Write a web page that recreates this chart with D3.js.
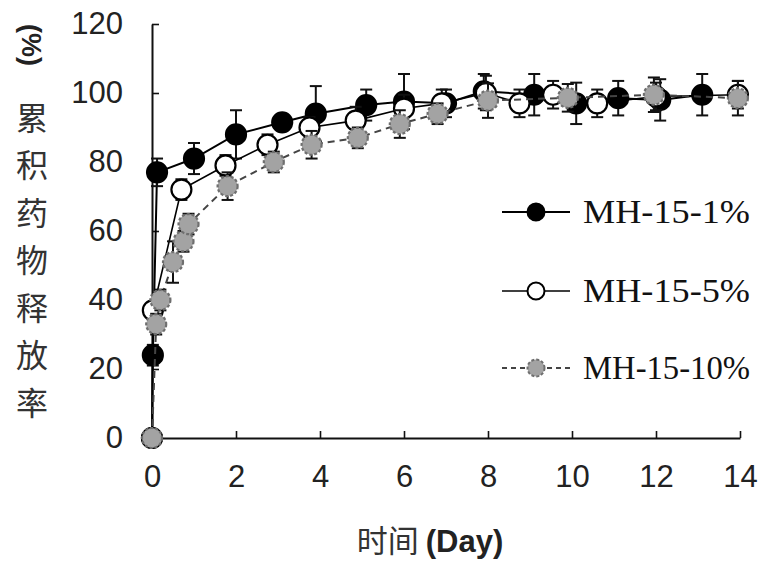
<!DOCTYPE html>
<html>
<head>
<meta charset="utf-8">
<script src="https://cdn.jsdelivr.net/npm/d3@7"></script>
<style>
  body { margin: 0; background: #fff; }
  svg { display: block; }
</style>
</head>
<body>
<svg id="chart" width="775" height="564"></svg>
<script>
// series values (day, cumulative release %, error)
const days1 = [0, 0.02, 0.12, 1, 2, 3.1, 3.9, 5.1, 6, 7, 7.9, 9.1, 10.1, 11.1, 12.1, 13.1];
const rel1  = [0, 24, 77, 81, 88, 91.5, 94, 96.5, 97.5, 97, 100.5, 99.5, 97, 98.5, 98, 99.5];
const err1  = [0, 3, 4, 4.5, 7, 2, 8, 4.5, 8, 4, 5, 6, 6, 5, 6, 6];

const days2 = [0, 0.02, 0.7, 1.75, 2.75, 3.75, 4.85, 6, 6.9, 7.95, 8.75, 9.55, 10.6, 12, 13.95];
const rel2  = [0, 37, 72, 79, 85, 90, 92, 95.5, 97, 100, 97, 99.5, 97, 99, 99.5];
const err2  = [0, 2, 3, 3, 3, 3, 4, 4, 4, 5, 4, 4, 4, 4, 4];

const days3 = [0, 0.1, 0.2, 0.5, 0.75, 0.87, 1.8, 2.9, 3.8, 4.9, 5.9, 6.8, 8, 9.9, 11.95, 13.95];
const rel3  = [0, 33, 40, 51, 57, 62, 73, 80, 85, 87, 91, 94, 97.8, 98.6, 99.5, 98.5];
const err3  = [0, 3, 3, 6, 3, 3, 4, 3, 4, 3, 4, 3, 5, 4, 5, 5];

const seriesNames = ["MH-15-1%", "MH-15-5%", "MH-15-10%"];
const xTicks = [0, 2, 4, 6, 8, 10, 12, 14];
const yTicks = [0, 20, 40, 60, 80, 100, 120];
const yTitleChars = ["累", "积", "药", "物", "释", "放", "率"];

const svg = d3.select("#chart");

const x = d3.scaleLinear().domain([0, 14]).range([152, 740]);
const y = d3.scaleLinear().domain([0, 120]).range([438, 24]);

// axes, ticks pointing inward
const xAxis = svg.append("g")
    .attr("transform", "translate(0," + y(0) + ")")
    .call(d3.axisBottom(x).tickValues(xTicks).tickSize(-7).tickPadding(27).tickSizeOuter(0));

const yAxis = svg.append("g")
    .attr("transform", "translate(" + x(0) + ",0)")
    .call(d3.axisLeft(y).tickValues(yTicks).tickSize(-7).tickPadding(29).tickSizeOuter(0));

[xAxis, yAxis].forEach(function(ax) {
    ax.select(".domain").attr("stroke", "#111").attr("stroke-width", 2);
    ax.selectAll(".tick line").attr("stroke", "#111").attr("stroke-width", 1.6);
    ax.selectAll("text")
        .attr("font-family", "Liberation Sans, Arial, sans-serif")
        .attr("font-size", "31px")
        .attr("fill", "#222");
});

const styles = [
    { fill: "#000", stroke: "#000", dash: null, line: "#000", lineDash: null, lw: 2 },
    { fill: "#fff", stroke: "#000", dash: null, line: "#000", lineDash: null, lw: 1.6 },
    { fill: "#a3a3a3", stroke: "#6f6f6f", dash: "3,2", line: "#444", lineDash: "7,5", lw: 2 }
];

const allSeries = [
    days1.map((d, i) => ({ d: d, v: rel1[i], e: err1[i] })),
    days2.map((d, i) => ({ d: d, v: rel2[i], e: err2[i] })),
    days3.map((d, i) => ({ d: d, v: rel3[i], e: err3[i] }))
];

const line = d3.line().x(p => x(p.d)).y(p => y(p.v));

allSeries.forEach(function(data, k) {
    const st = styles[k];
    const g = svg.append("g");

    g.append("path")
        .datum(data)
        .attr("d", line)
        .attr("fill", "none")
        .attr("stroke", st.line)
        .attr("stroke-width", st.lw)
        .attr("stroke-dasharray", st.lineDash);

    // error bars
    const eb = g.selectAll(".eb").data(data.filter(p => p.e > 0)).join("g");
    eb.append("line")
        .attr("x1", p => x(p.d)).attr("x2", p => x(p.d))
        .attr("y1", p => y(p.v - p.e)).attr("y2", p => y(p.v + p.e))
        .attr("stroke", "#111").attr("stroke-width", 2);
    [-1, 1].forEach(function(s) {
        eb.append("line")
            .attr("x1", p => x(p.d) - 6).attr("x2", p => x(p.d) + 6)
            .attr("y1", p => y(p.v + s * p.e)).attr("y2", p => y(p.v + s * p.e))
            .attr("stroke", "#111").attr("stroke-width", 2);
    });

    g.selectAll("circle").data(data).join("circle")
        .attr("cx", p => x(p.d))
        .attr("cy", p => y(p.v))
        .attr("r", 10)
        .attr("fill", st.fill)
        .attr("stroke", st.stroke)
        .attr("stroke-width", 2.2)
        .attr("stroke-dasharray", st.dash);
});

// legend
const legendY = [212, 291, 368];
seriesNames.forEach(function(name, k) {
    const st = styles[k];
    const lg = svg.append("g").attr("transform", "translate(0," + legendY[k] + ")");
    lg.append("line")
        .attr("x1", 502).attr("x2", 570).attr("y1", 0).attr("y2", 0)
        .attr("stroke", st.line).attr("stroke-width", st.lw)
        .attr("stroke-dasharray", st.lineDash ? "5,4" : null);
    lg.append("circle")
        .attr("cx", 536).attr("cy", 0).attr("r", 8.5)
        .attr("fill", st.fill).attr("stroke", st.stroke)
        .attr("stroke-width", 2).attr("stroke-dasharray", st.dash);
    lg.append("text")
        .attr("x", 583).attr("y", 11)
        .attr("font-family", "Liberation Serif, Times New Roman, serif")
        .attr("font-size", "33px")
        .attr("fill", "#111")
        .attr("textLength", 167)
        .attr("lengthAdjust", "spacingAndGlyphs")
        .text(name);
});

// y axis title: "(%)" rotated, then stacked characters
svg.append("text")
    .attr("transform", "translate(31,45) rotate(90)")
    .attr("text-anchor", "middle")
    .attr("dy", "0.35em")
    .attr("font-family", "Liberation Sans, Arial, sans-serif")
    .attr("font-weight", "bold")
    .attr("font-size", "27px")
    .attr("fill", "#222")
    .text("(%)");

svg.append("g").selectAll("text").data(yTitleChars).join("text")
    .attr("x", 32)
    .attr("y", (c, i) => 118 + i * 47.5)
    .attr("dy", "0.36em")
    .attr("text-anchor", "middle")
    .attr("font-family", "Noto Sans CJK SC, sans-serif")
    .attr("font-size", "32px")
    .attr("fill", "#333")
    .text(c => c);

// x axis title
const xt = svg.append("text")
    .attr("x", 430).attr("y", 552)
    .attr("text-anchor", "middle")
    .attr("font-size", "31px")
    .attr("fill", "#222");
xt.append("tspan")
    .attr("font-family", "Noto Sans CJK SC, sans-serif")
    .attr("fill", "#333")
    .text("时间 ");
xt.append("tspan")
    .attr("font-family", "Liberation Sans, Arial, sans-serif")
    .attr("font-weight", "bold")
    .attr("font-size", "31px")
    .text("(Day)");
</script>
</body>
</html>
